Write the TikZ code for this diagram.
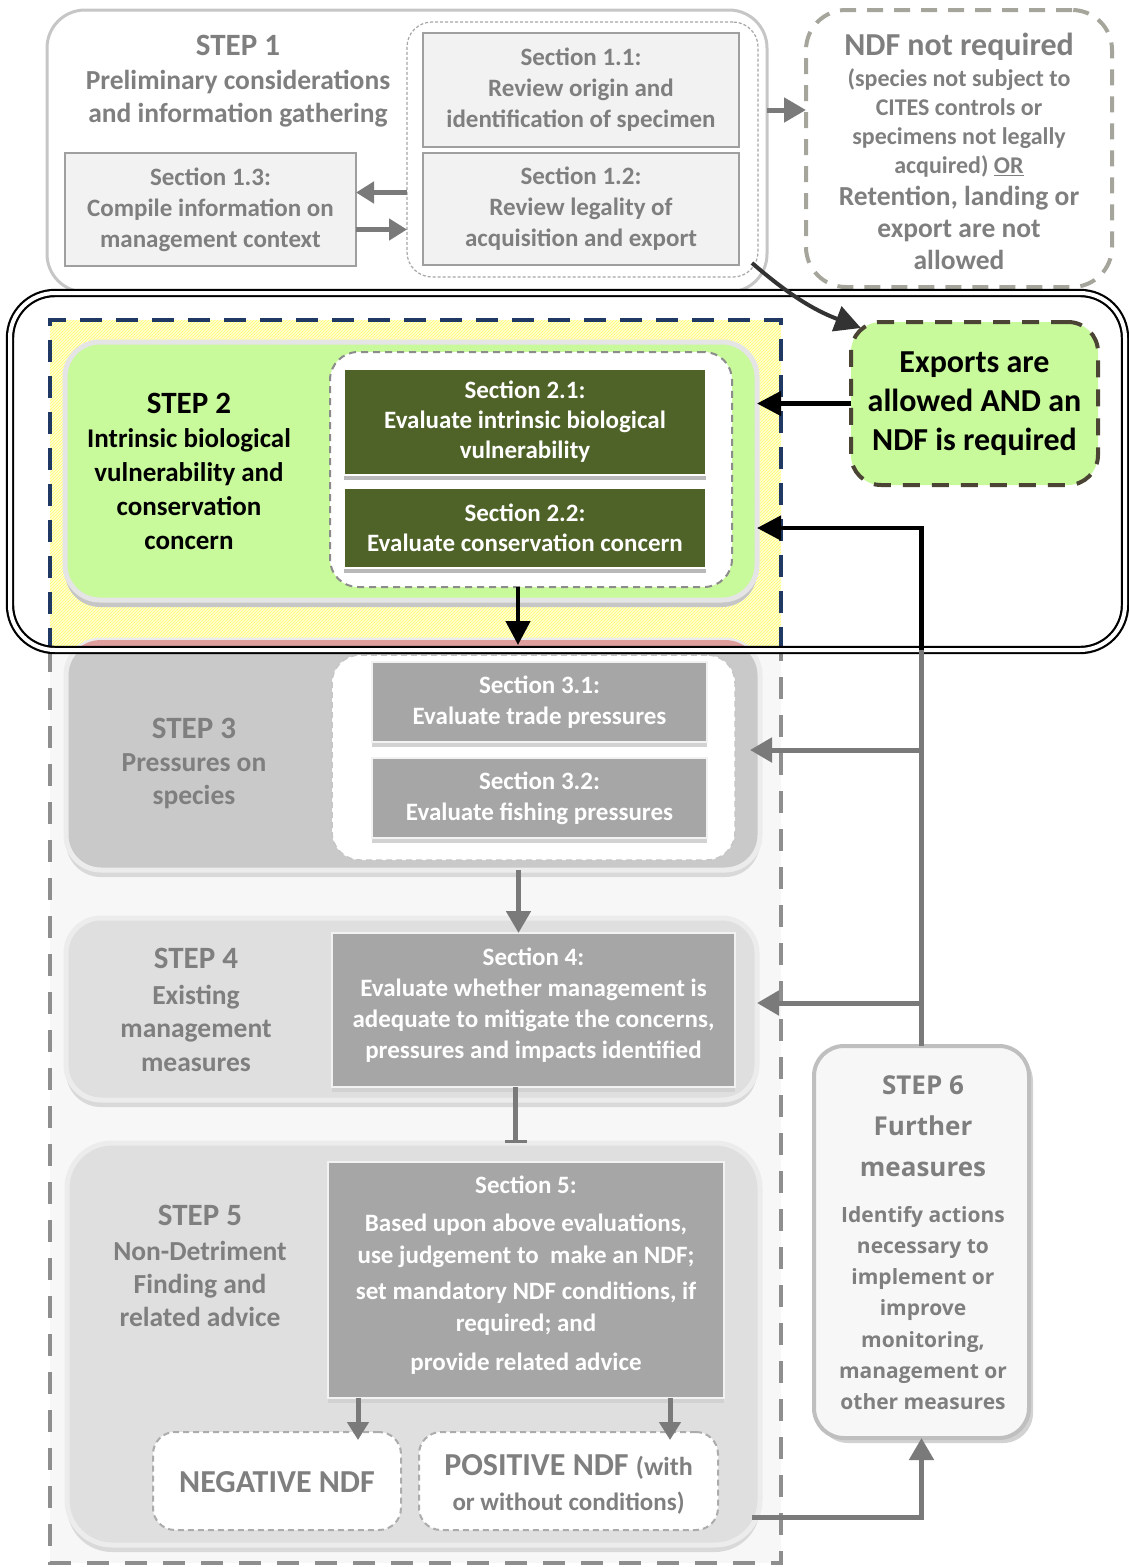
\documentclass[tikz,border=0pt]{standalone}
\usepackage{fontspec}
\setmainfont{Carlito}
\newfontfamily\sixfont{Open Sans}
\usetikzlibrary{arrows.meta,patterns,shadows}
\definecolor{txg}{HTML}{7F7F7F}
\definecolor{boxline}{HTML}{C6C6C6}
\definecolor{secfill}{HTML}{F2F2F2}
\definecolor{secdraw}{HTML}{9F9F9F}
\definecolor{ndfdash}{HTML}{A6A59B}
\definecolor{lgreen}{HTML}{C8F99A}
\definecolor{oliveg}{HTML}{4F6228}
\definecolor{expdash}{HTML}{4B4435}
\definecolor{navyc}{HTML}{1F3864}
\definecolor{midgrey}{HTML}{C9C9C9}
\definecolor{lightgrey}{HTML}{DFDFDF}
\definecolor{secgrey}{HTML}{A6A6A6}
\definecolor{pinkc}{HTML}{DE9E9C}
\definecolor{arrg}{HTML}{7A7A7A}
\definecolor{ylw}{HTML}{FDFDD8}
\definecolor{framebg}{HTML}{F7F7F7}
\definecolor{framedash}{HTML}{8E8E8E}
\newcommand\fsz[2]{\fontsize{#1}{#2}\selectfont}
\begin{document}
\begin{tikzpicture}[x=1pt,y=-1pt,
  every node/.style={inner sep=0pt,outer sep=0pt},
  txt/.style={text=txg,font=\bfseries,align=center},
  s1box/.style={rectangle,rounded corners=38pt,draw=boxline,line width=3pt,fill=white},
  dashthin/.style={rectangle,rounded corners=25pt,draw=gray!70,line width=1.2pt,dash pattern=on 3pt off 2pt,fill=white},
  secone/.style={rectangle,fill=secfill,draw=secdraw,line width=2pt,text=txg,font=\bfseries\fsz{25}{31},align=center},
  ndfbox/.style={rectangle,rounded corners=40pt,draw=ndfdash,line width=4pt,dash pattern=on 16pt off 11pt},
  greenbox/.style={rectangle,rounded corners=35pt,fill=lgreen,draw=gray!20,line width=5pt,drop shadow={shadow xshift=0pt,shadow yshift=-7pt,fill=gray!45,opacity=1}},
  dashgreen/.style={rectangle,rounded corners=28pt,fill=white,draw=gray!90,line width=2pt,dash pattern=on 7pt off 5pt},
  olivebox/.style={rectangle,fill=oliveg,draw=white,line width=1.5pt,text=white,font=\bfseries\fsz{25}{30},align=center,drop shadow={shadow xshift=0pt,shadow yshift=-5pt,fill=gray!55,opacity=1}},
  expbox/.style={rectangle,rounded corners=30pt,fill=lgreen,draw=expdash,line width=4pt,dash pattern=on 17pt off 12pt,font=\bfseries\fsz{32}{39},align=center},
  greybox/.style={rectangle,rounded corners=35pt,fill=#1,draw=gray!15,line width=5pt,drop shadow={shadow xshift=0pt,shadow yshift=-7pt,fill=gray!30,opacity=1}},
  dashgrey/.style={rectangle,rounded corners=28pt,fill=white,draw=gray!45,line width=1.5pt,dash pattern=on 6pt off 4pt},
  secdark/.style={rectangle,fill=secgrey,draw=gray!10,line width=1.5pt,text=white,font=\bfseries\fsz{25}{31},align=center,drop shadow={shadow xshift=0pt,shadow yshift=-5pt,fill=gray!35,opacity=1}},
  ndfout/.style={rectangle,rounded corners=22pt,fill=white,draw=gray!65,line width=2pt,dash pattern=on 6pt off 4pt},
  sixbox/.style={rectangle,rounded corners=30pt,fill=gray!6,draw=gray!50,line width=4pt,drop shadow={shadow xshift=4pt,shadow yshift=-5pt,fill=gray!35,opacity=1}},
  focusbox/.style={rectangle,rounded corners=45pt,draw=black,line width=2.2pt,double=white,double distance=4pt},
  garr/.style={draw=arrg,line width=5pt,-{Triangle[length=22pt,width=24pt]}},
  garrs/.style={draw=arrg,line width=5pt,-{Triangle[length=18pt,width=21pt]}},
  barr/.style={draw=black,line width=4.5pt,-{Triangle[length=24pt,width=24pt]}},
  gline/.style={draw=arrg,line width=5pt},
  bline/.style={draw=black,line width=4.5pt},
]
\useasboundingbox (0,0) rectangle (1129,1567);

% frame coordinates
\coordinate (fTL) at (50,320);
\coordinate (fTR) at (781,320);
\coordinate (fML) at (50,650);
\coordinate (fMR) at (781,650);
\coordinate (fBL) at (50,1563);
\coordinate (fBR) at (781,1563);

% background regions
\fill[ylw] (fTL) rectangle (fMR);
\fill[pattern=north east lines,pattern color=yellow!60] (fTL) rectangle (fMR);
\fill[framebg] (fML) rectangle (fBR);

% ---------- STEP 1 ----------
\node[s1box,minimum width=720pt,minimum height=282pt] (step1) at (407,151) {};
\node[txt,font=\bfseries\fsz{31}{36}] (s1title) at (238,45) {STEP 1};
\node[txt,font=\bfseries\fsz{27.5}{33}] (s1body) at (238,99) {Preliminary considerations\\and information gathering};
\node[dashthin,minimum width=351pt,minimum height=255pt] (d1) at (582.5,149.5) {};
\node[secone,minimum width=316pt,minimum height=114pt] (s11) at (581,90) {Section 1.1:\\Review origin and\\identification of specimen};
\node[secone,minimum width=316pt,minimum height=112pt] (s12) at (581,209) {Section 1.2:\\Review legality of\\acquisition and export};
\node[secone,minimum width=291pt,minimum height=113pt] (s13) at (210.5,209.5) {Section 1.3:\\Compile information on\\management context};

% NDF not required
\node[ndfbox,minimum width=306pt,minimum height=277pt] (ndf) at (959,148.5) {};
\node[txt,font=\bfseries\fsz{32}{36}] (ndft) at (959,47) {NDF not required};
\node[txt,font=\bfseries\fsz{24}{29}] (ndfb1) at (959,123) {(species not subject to\\CITES controls or\\specimens not legally\\acquired) \underline{OR}};
\node[txt,font=\bfseries\fsz{27.5}{32}] (ndfb2) at (959,228) {Retention, landing or\\export are not\\allowed};

% ---------- STEP 2 ----------
\node[greenbox,minimum width=692pt,minimum height=258pt] (s2) at (411,471) {};
\node[font=\bfseries\fsz{31}{36},align=center] (s2title) at (189,403) {STEP 2};
\node[font=\bfseries\fsz{27}{34},align=center] (s2body) at (189,489) {Intrinsic biological\\vulnerability and\\conservation\\concern};
\node[dashgreen,minimum width=402pt,minimum height=235pt] (d2) at (531,469.5) {};
\node[olivebox,minimum width=362pt,minimum height=106pt] (s21) at (525,422) {Section 2.1:\\Evaluate intrinsic biological\\vulnerability};
\node[olivebox,minimum width=362pt,minimum height=80pt] (s22) at (525,528) {Section 2.2:\\Evaluate conservation concern};
\node[expbox,minimum width=247pt,minimum height=163pt] (exp) at (974.5,403.5) {Exports are\\allowed AND an\\NDF is required};

% ---------- STEP 3 ----------
\node[greybox=midgrey,minimum width=694pt,minimum height=230pt] (s3) at (413,755) {};
\begin{scope}
  \clip (s3.north west) rectangle (s3.east |- fMR);
  \fill[pinkc,rounded corners=35pt] (s3.north west) rectangle (s3.south east);
\end{scope}
\node[txt,font=\bfseries\fsz{31}{36}] (s3title) at (194,728) {STEP 3};
\node[txt,font=\bfseries\fsz{27.5}{33}] (s3body) at (194,781) {Pressures on\\species};
\node[dashgrey,minimum width=403pt,minimum height=205pt] (d3) at (533.5,757.5) {};
\node[secdark,minimum width=335pt,minimum height=80pt] (s31) at (539.5,702) {Section 3.1:\\Evaluate trade pressures};
\node[secdark,minimum width=335pt,minimum height=80pt] (s32) at (539.5,798) {Section 3.2:\\Evaluate fishing pressures};

% ---------- STEP 4 ----------
\node[greybox=lightgrey,minimum width=691pt,minimum height=182pt] (s4) at (411.5,1009) {};
\node[txt,font=\bfseries\fsz{31}{36}] (s4title) at (196,958) {STEP 4};
\node[txt,font=\bfseries\fsz{27.5}{33.5}] (s4body) at (196,1028) {Existing\\management\\measures};
\node[secdark,minimum width=403pt,minimum height=154pt] (sec4) at (533.5,1010) {};
\node[text=white,font=\bfseries\fsz{25}{31},align=center] (sec4t) at (533.5,1005) {Section 4:\\Evaluate whether management is\\adequate to mitigate the concerns,\\pressures and impacts identified};

% ---------- STEP 5 ----------
\node[greybox=lightgrey,rounded corners=45pt,minimum width=693pt,minimum height=402pt] (s5) at (413.5,1344) {};
\node[txt,font=\bfseries\fsz{31}{36}] (s5title) at (200,1215) {STEP 5};
\node[txt,font=\bfseries\fsz{27.5}{33}] (s5body) at (200,1284) {Non-Detriment\\Finding and\\related advice};
\node[secdark,minimum width=396pt,minimum height=236pt] (sec5) at (526,1280) {};
\node[text=white,font=\bfseries\fsz{25}{32},align=center] (sec5t) at (526,1275) {Section 5:\\[6pt]Based upon above evaluations,\\use judgement to~~make an NDF;\\[4pt]set mandatory NDF conditions, if\\required; and\\[7pt]provide related advice};
\node[ndfout,minimum width=248pt,minimum height=98pt] (neg) at (277,1481) {};
\node[txt,font=\bfseries\fsz{32}{36}] (negt) at (277,1482) {NEGATIVE NDF};
\node[ndfout,minimum width=299pt,minimum height=98pt] (pos) at (568.5,1481) {};
\node[txt,font=\bfseries\fsz{32}{35}] (post) at (568.5,1484) {POSITIVE NDF {\fsz{26}{35}(with}\\{\fsz{25}{35}or without conditions)}};

% ---------- STEP 6 ----------
\node[sixbox,minimum width=215pt,minimum height=392pt] (s6) at (921.5,1242) {};
\node[text=txg,font=\sixfont\bfseries\fsz{26}{41},align=center] (s6title) at (923,1126) {STEP 6\\Further\\measures};
\node[text=txg,font=\sixfont\bfseries\fsz{21}{31.2},align=center] (s6body) at (923,1308) {Identify actions\\necessary to\\implement or\\improve\\monitoring,\\management or\\other measures};

% ---------- dashed frame ----------
\draw[navyc,line width=4.5pt,dash pattern=on 22pt off 14pt] (fML) -- (fTL) -- (fTR) -- (fMR);
\draw[framedash,line width=4pt,dash pattern=on 22pt off 16pt] (fML) -- (fBL) -- (fBR) -- (fMR);

% ---------- focus double box ----------
\node[focusbox,minimum width=1115pt,minimum height=357pt] (focus) at (567.5,471.5) {};

% ---------- connectors ----------
\draw[garrs] ([yshift=17pt]s13.east -| d1.west) -- ([yshift=17pt]s13.east);
\draw[garrs] ([yshift=-20pt]s13.east) -- ([yshift=-20pt]s13.east -| d1.west);
\draw[garr] ([yshift=-20pt]s11.east -| step1.east) -- ([yshift=-20pt]s11.east -| ndf.west);
\draw[draw=black!80,line width=4pt,-{Triangle[length=26pt,width=26pt]}] ([xshift=13pt,yshift=2pt]s12.south east) to[bend right=10] ([xshift=10pt,yshift=-6pt]exp.north west);
\draw[barr] (exp.west) -- (exp.west -| s2.east);
\draw[barr] ([xshift=-13pt]d2.south) -- ([xshift=-13pt,yshift=-5pt]d2.south |- s3.north);
\draw[gline] (s6.north) -- (s6.north |- focus.south);
\draw[bline] (s6.north |- focus.south) -- (s6.north |- s22.east);
\draw[barr] ([xshift=2.25pt]s6.north |- s22.east) -- (s22.east -| s2.east);
\draw[garr] ([yshift=5pt]s3.east -| s6.north) -- ([xshift=-10pt,yshift=5pt]s3.east);
\draw[garr] ([yshift=6pt]s4.east -| s6.north) -- ([yshift=6pt]s4.east);
\draw[draw=arrg,line width=5pt,-{Bar[width=22pt,line width=3pt]}] ([xshift=-18pt]sec4.south) -- ([xshift=-18pt]sec4.south |- s5.north);
\draw[garr] ([xshift=-15pt]sec4.north |- s3.south) -- ([xshift=-15pt]sec4.north);
\draw[garrs] ([xshift=30pt]sec5.south west) -- ([xshift=30pt,yshift=-8pt]sec5.south west |- neg.north);
\draw[garrs] ([xshift=-54pt]sec5.south east) -- ([xshift=-54pt,yshift=-8pt]sec5.south east |- pos.north);
\draw[garr] ([xshift=-8pt,yshift=13pt]pos.south -| s5.east) -| (s6.south);
\end{tikzpicture}
\end{document}
